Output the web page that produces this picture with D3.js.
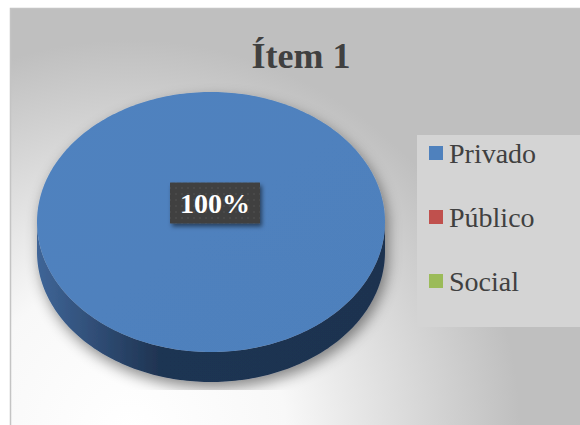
<!DOCTYPE html>
<html>
<head>
<meta charset="utf-8">
<script src="https://cdn.jsdelivr.net/npm/d3@7"></script>
<style>
  body { margin: 0; background: #ffffff; }
  svg { display: block; }
  .title { font-family: "Liberation Serif", "Times New Roman", serif; font-weight: bold; font-size: 36px; fill: #404040; }
  .legendText { font-family: "Liberation Serif", "Times New Roman", serif; font-size: 28px; fill: #404040; }
  .dataLabel { font-family: "Liberation Serif", "Times New Roman", serif; font-weight: bold; font-size: 28px; fill: #ffffff; }
</style>
</head>
<body>
<script>
// 3D pie chart script
(function(){
  // *************************************************** //
  // pseudo-global variables
  // categories and values
  var categories = ["Privado", "Público", "Social"];
  var values = [100, 0, 0];
  var chartTitle = "Ítem 1";
  var colors = ["#4f81bd", "#c0504d", "#9bbb59"];

  window.onload = setChart();

  // *************************************************** //
  function setChart(){
    var width = 580,
        height = 425;

    var svg = d3.select("body")
      .append("svg")
      .attr("width", width)
      .attr("height", height);

    var defs = svg.append("defs");
    setDefs(defs);

    // chart area background
    svg.append("rect")
      .attr("x", 10.5)
      .attr("y", 8.5)
      .attr("width", width)
      .attr("height", height)
      .attr("fill", "url(#bgGrad)")
      .attr("stroke", "#c4c4c4")
      .attr("stroke-width", 1.5);

    // title
    svg.append("text")
      .attr("class", "title")
      .attr("x", 301)
      .attr("y", 68)
      .attr("text-anchor", "middle")
      .text(chartTitle);

    setPie(svg);
    setLegend(svg);
  };

  // *************************************************** //
  function setDefs(defs){
    // background gradient, white in the bottom left corner
    var bg = defs.append("radialGradient")
      .attr("id", "bgGrad")
      .attr("gradientUnits", "userSpaceOnUse")
      .attr("cx", 130).attr("cy", 430).attr("r", 390);
    bg.append("stop").attr("offset", 0).attr("stop-color", "#ffffff");
    bg.append("stop").attr("offset", 0.4).attr("stop-color", "#f8f8f8");
    bg.append("stop").attr("offset", 1).attr("stop-color", "#bfbfbf");

    // side wall gradient
    var side = defs.append("linearGradient")
      .attr("id", "sideGrad")
      .attr("gradientUnits", "userSpaceOnUse")
      .attr("x1", 37).attr("x2", 385).attr("y1", 0).attr("y2", 0);
    side.append("stop").attr("offset", 0).attr("stop-color", "#3f6597");
    side.append("stop").attr("offset", 0.35).attr("stop-color", "#1f3452");
    side.append("stop").attr("offset", 1).attr("stop-color", "#1f3350");

    // top face gradient
    var top = defs.append("linearGradient")
      .attr("id", "topGrad")
      .attr("x1", 0).attr("x2", 1).attr("y1", 0).attr("y2", 1);
    top.append("stop").attr("offset", 0).attr("stop-color", "#5082bf");
    top.append("stop").attr("offset", 1).attr("stop-color", "#4e80bc");

    // soft shadow under the pie
    var sh = defs.append("filter")
      .attr("id", "pieShadow")
      .attr("x", "-20%").attr("y", "-20%")
      .attr("width", "140%").attr("height", "140%");
    sh.append("feDropShadow")
      .attr("dx", 3).attr("dy", 6)
      .attr("stdDeviation", 7)
      .attr("flood-color", "#000")
      .attr("flood-opacity", 0.45);

    // shadow of the label box
    var lsh = defs.append("filter")
      .attr("id", "labelShadow")
      .attr("x", "-20%").attr("y", "-30%")
      .attr("width", "140%").attr("height", "160%");
    lsh.append("feDropShadow")
      .attr("dx", 2).attr("dy", 3)
      .attr("stdDeviation", 2)
      .attr("flood-color", "#000")
      .attr("flood-opacity", 0.5);

    // clip for the plot area
    defs.append("clipPath")
      .attr("id", "plotClip")
      .append("rect")
      .attr("x", 18).attr("y", 80)
      .attr("width", 385).attr("height", 310);

    // dotted texture of the label box
    var pat = defs.append("pattern")
      .attr("id", "dots")
      .attr("patternUnits", "userSpaceOnUse")
      .attr("width", 6).attr("height", 6);
    pat.append("rect").attr("width", 6).attr("height", 6).attr("fill", "#404040");
    pat.append("circle").attr("cx", 3).attr("cy", 3).attr("r", 1.2).attr("fill", "#4a4a4a");
  };

  // *************************************************** //
  function setPie(svg){
    var cx = 211,
        cy = 222,
        rx = 174,
        ry = 130,
        depth = 30;

    var pie = d3.pie().sort(null).startAngle(0).endAngle(2 * Math.PI);
    var slices = pie(values).filter(function(d){ return d.value > 0; });
    var total = d3.sum(values);

    // ellipse scales for the tilted disc
    var px = d3.scaleLinear().domain([-1, 1]).range([cx - rx, cx + rx]);
    var py = d3.scaleLinear().domain([-1, 1]).range([cy - ry, cy + ry]);

    function pt(a, dy){
      return [px(Math.sin(a)), py(-Math.cos(a)) + (dy || 0)];
    };

    function arcPoints(a0, a1, dy){
      var n = Math.max(2, Math.ceil((a1 - a0) / 0.02));
      return d3.range(n + 1).map(function(i){ return pt(a0 + (a1 - a0) * i / n, dy); });
    };

    var line = d3.line();

    var g = svg.append("g").attr("clip-path", "url(#plotClip)");
    var pieG = g.append("g").attr("filter", "url(#pieShadow)");

    // side walls (front half only)
    pieG.selectAll(".side")
      .data(slices)
      .enter()
      .append("path")
      .attr("class", "side")
      .attr("fill", "url(#sideGrad)")
      .attr("d", function(d){
        var a0 = Math.max(d.startAngle, Math.PI / 2),
            a1 = Math.min(d.endAngle, 3 * Math.PI / 2);
        if (a1 <= a0) return null;
        var pts = arcPoints(a0, a1, 0).concat(arcPoints(a0, a1, depth).reverse());
        return line(pts) + "Z";
      });

    // top faces
    pieG.selectAll(".top")
      .data(slices)
      .enter()
      .append("path")
      .attr("class", "top")
      .attr("fill", function(d){ return d.index === 0 ? "url(#topGrad)" : colors[d.index]; })
      .attr("d", function(d){
        var pts = arcPoints(d.startAngle, d.endAngle, 0);
        if (d.endAngle - d.startAngle < 2 * Math.PI - 1e-6) pts = [[cx, cy]].concat(pts);
        return line(pts) + "Z";
      });

    // data labels
    var fmt = d3.format(".0%");
    slices.forEach(function(d){
      var full = d.endAngle - d.startAngle >= 2 * Math.PI - 1e-6;
      var mid = (d.startAngle + d.endAngle) / 2;
      var pos = full ? [cx + 4, cy - 19] : pt(mid, 0).map(function(v, i){ return (v + (i ? cy : cx)) / 2; });
      var lg = svg.append("g").attr("transform", "translate(" + pos[0] + "," + pos[1] + ")");
      lg.append("rect")
        .attr("x", -45).attr("y", -20.5)
        .attr("width", 90).attr("height", 41)
        .attr("fill", "url(#dots)")
        .attr("filter", "url(#labelShadow)");
      lg.append("text")
        .attr("class", "dataLabel")
        .attr("text-anchor", "middle")
        .attr("y", 10)
        .text(fmt(d.value / total));
    });
  };

  // *************************************************** //
  function setLegend(svg){
    var legend = svg.append("g").attr("class", "legend");

    legend.append("rect")
      .attr("x", 417).attr("y", 135)
      .attr("width", 170).attr("height", 192)
      .attr("fill", "#d4d4d4");

    var y = d3.scalePoint().domain(categories).range([163, 291]);

    var items = legend.selectAll(".item")
      .data(categories)
      .enter()
      .append("g")
      .attr("class", "item")
      .attr("transform", function(d){ return "translate(0," + y(d) + ")"; });

    items.append("rect")
      .attr("x", 429).attr("y", -17)
      .attr("width", 14).attr("height", 14)
      .attr("fill", function(d, i){ return colors[i]; });

    items.append("text")
      .attr("class", "legendText")
      .attr("x", 449)
      .text(function(d){ return d; });
  };

})();
</script>
</body>
</html>
